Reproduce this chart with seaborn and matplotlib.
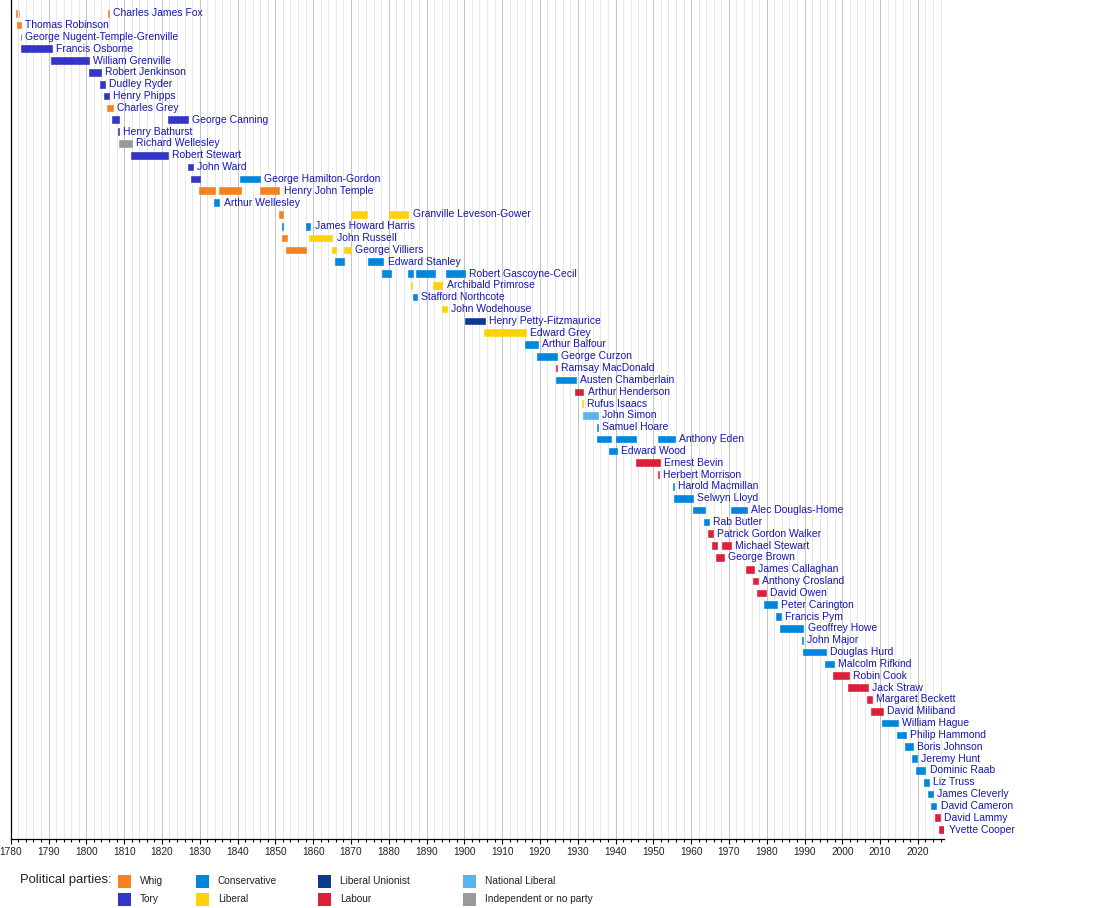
import matplotlib
matplotlib.use("Agg")
import matplotlib.pyplot as plt
from matplotlib.patches import Rectangle
import pandas as pd
import seaborn as sns

# ---------- Setup ----------
sns.set_theme(style="white")
plt.rcParams["font.family"] = ["Liberation Sans", "DejaVu Sans"]

names = [
    "Charles James Fox", "Thomas Robinson", "George Nugent-Temple-Grenville",
    "Francis Osborne", "William Grenville", "Robert Jenkinson", "Dudley Ryder",
    "Henry Phipps", "Charles Grey", "George Canning", "Henry Bathurst",
    "Richard Wellesley", "Robert Stewart", "John Ward", "George Hamilton-Gordon",
    "Henry John Temple", "Arthur Wellesley", "Granville Leveson-Gower",
    "James Howard Harris", "John Russell", "George Villiers", "Edward Stanley",
    "Robert Gascoyne-Cecil", "Archibald Primrose", "Stafford Northcote",
    "John Wodehouse", "Henry Petty-Fitzmaurice", "Edward Grey", "Arthur Balfour",
    "George Curzon", "Ramsay MacDonald", "Austen Chamberlain", "Arthur Henderson",
    "Rufus Isaacs", "John Simon", "Samuel Hoare", "Anthony Eden", "Edward Wood",
    "Ernest Bevin", "Herbert Morrison", "Harold Macmillan", "Selwyn Lloyd",
    "Alec Douglas-Home", "Rab Butler", "Patrick Gordon Walker", "Michael Stewart",
    "George Brown", "James Callaghan", "Anthony Crosland", "David Owen",
    "Peter Carington", "Francis Pym", "Geoffrey Howe", "John Major",
    "Douglas Hurd", "Malcolm Rifkind", "Robin Cook", "Jack Straw",
    "Margaret Beckett", "David Miliband", "William Hague", "Philip Hammond",
    "Boris Johnson", "Jeremy Hunt", "Dominic Raab", "Liz Truss",
    "James Cleverly", "David Cameron", "David Lammy", "Yvette Cooper",
]

# one entry per term of office: row index into names, start, end, party
term_row = [
    0, 0, 0, 1, 2, 3, 4, 5, 6, 7, 8, 9, 9, 10, 11, 12, 13, 14, 14,
    15, 15, 15, 16, 17, 17, 17, 18, 18, 19, 19, 20, 20, 20, 21, 21,
    22, 22, 22, 22, 23, 23, 24, 25, 26, 27, 28, 29, 30, 31, 32, 33,
    34, 35, 36, 36, 36, 37, 38, 39, 40, 41, 42, 42, 43, 44, 45, 45,
    46, 47, 48, 49, 50, 51, 52, 53, 54, 55, 56, 57, 58, 59, 60, 61,
    62, 63, 64, 65, 66, 67, 68, 69,
]
term_start = [
    1781.4, 1782.1, 1805.7, 1781.7, 1782.6, 1782.7, 1790.7, 1800.8, 1803.6,
    1804.7, 1805.6, 1806.8, 1821.7, 1808.5, 1808.6, 1811.8, 1826.8, 1827.7,
    1840.7, 1829.9, 1835.0, 1845.9, 1833.9, 1850.9, 1869.9, 1880.1, 1851.9,
    1858.2, 1851.8, 1859.0, 1852.9, 1864.9, 1868.2, 1865.9, 1874.4, 1878.1,
    1885.0, 1887.2, 1895.1, 1886.0, 1891.8, 1886.3, 1894.1, 1900.2, 1905.1,
    1916.1, 1919.3, 1924.2, 1924.3, 1929.3, 1931.2, 1931.3, 1935.2, 1935.2,
    1940.2, 1951.3, 1938.4, 1945.3, 1951.3, 1955.3, 1955.4, 1960.4, 1970.5,
    1963.4, 1964.4, 1965.4, 1968.3, 1966.5, 1974.4, 1976.3, 1977.3, 1979.4,
    1982.5, 1983.5, 1989.4, 1989.5, 1995.4, 1997.5, 2001.5, 2006.5, 2007.6,
    2010.5, 2014.5, 2016.5, 2018.5, 2019.5, 2021.7, 2022.7, 2023.5, 2024.6,
    2025.7,
]
term_end = [
    1781.6, 1782.3, 1805.9, 1782.8, 1782.8, 1790.8, 1800.8, 1803.8, 1804.9,
    1806.0, 1807.0, 1808.7, 1826.9, 1808.7, 1812.0, 1821.7, 1828.1, 1830.1,
    1846.0, 1834.1, 1841.0, 1851.1, 1835.2, 1852.1, 1874.2, 1885.2, 1852.1,
    1859.3, 1853.1, 1865.1, 1858.2, 1866.1, 1870.1, 1868.3, 1878.6, 1880.5,
    1886.3, 1892.2, 1900.2, 1886.2, 1894.2, 1887.4, 1895.3, 1905.5, 1916.4,
    1919.5, 1924.5, 1924.4, 1929.6, 1931.5, 1931.4, 1935.4, 1935.4, 1938.7,
    1945.5, 1955.7, 1940.4, 1951.7, 1951.5, 1955.5, 1960.4, 1963.6, 1974.7,
    1964.7, 1965.7, 1966.8, 1970.6, 1968.7, 1976.6, 1977.6, 1979.7, 1982.8,
    1983.8, 1989.7, 1989.6, 1995.6, 1997.8, 2001.8, 2006.8, 2007.8, 2010.7,
    2014.8, 2016.9, 2018.7, 2019.8, 2022.0, 2023.0, 2023.9, 2024.9, 2025.9,
    2027.0,
]
W, T, C, L, LU, LAB, NL, IND = (
    "Whig", "Tory", "Conservative", "Liberal", "Liberal Unionist",
    "Labour", "National Liberal", "Independent or no party",
)
term_party = [
    W, W, W, W, T, T, T, T, T, T, W, T, T, T, IND, T, T, T, C,
    W, W, W, C, W, L, L, C, C, W, L, W, L, L, C, C,
    C, C, C, C, L, L, C, L, LU, L, C, C, LAB, C, LAB, L,
    NL, C, C, C, C, C, LAB, LAB, C, C, C, C, C, LAB, LAB, LAB,
    LAB, LAB, LAB, LAB, C, C, C, C, C, C, LAB, LAB, LAB, LAB, C, C,
    C, C, C, C, C, C, LAB, LAB,
]

parties = [W, T, C, L, LU, LAB, NL, IND]
party_colors = ["#f5811f", "#3434c6", "#0087dc", "#fdd20a",
                "#0b3a8f", "#dc1f3a", "#58b4ec", "#9a9a9a"]
decade_ticks = list(range(1780, 2021, 10))
biennial_ticks = list(range(1780, 2027, 2))

df = pd.DataFrame({"row": term_row, "start": term_start,
                   "end": term_end, "party": term_party})
color_of = dict(zip(parties, party_colors))
bar_colors = df["party"].map(color_of)

# ---------- Figure ----------
fig = plt.figure(figsize=(11, 9.08), dpi=100)
ax = fig.add_axes([10.7 / 1100, 69 / 908, 933.3 / 1100, 839 / 908])

# thin edge in the bar's own colour keeps very short terms visible
ax.barh(df["row"], df["end"] - df["start"], left=df["start"], height=0.56,
        color=bar_colors, edgecolor=bar_colors, linewidth=0.45, zorder=3)

# name goes just after the end of the person's last term
label_x = df.groupby("row")["end"].max()
for r, name in enumerate(names):
    ax.annotate(name, (label_x[r], r), xytext=(3, 0), textcoords="offset points",
                ha="left", va="center", fontsize=7.5, color="#1616b0",
                annotation_clip=False, zorder=4)

ax.set_xlim(1780, 2026.9)
ax.set_ylim(69.8, -1.12)
ax.set_yticks([])
ax.set_xticks(decade_ticks)
ax.set_xticks(biennial_ticks, minor=True)
ax.grid(axis="x", which="major", color="#c4c4c4", linewidth=0.72, zorder=0)
ax.grid(axis="x", which="minor", color="#e8e8e8", linewidth=0.72, zorder=0)
ax.grid(axis="y", visible=False)
ax.set_axisbelow(True)
ax.tick_params(axis="x", which="major", bottom=True, length=3.5, width=0.8,
               color="black", labelsize=7.3, labelcolor="#222222", pad=2.5)
ax.tick_params(axis="x", which="minor", bottom=True, length=2, width=0.8,
               color="black")
sns.despine(ax=ax, top=True, right=True)
for s in ["left", "bottom"]:
    ax.spines[s].set_color("black")
    ax.spines[s].set_linewidth(0.9)

# ---------- Legend ----------
fig.text(20 / 1100, 1 - 880 / 908, "Political parties:", fontsize=9.4,
         color="#222222", ha="left", va="center")
col_x = [118, 196, 318, 463]
row_y = [881.5, 899]
for i, (p, c) in enumerate(zip(parties, party_colors)):
    x = col_x[i // 2]
    y = row_y[i % 2]
    fig.add_artist(Rectangle((x / 1100, 1 - (y + 6.5) / 908), 13 / 1100, 13 / 908,
                             transform=fig.transFigure, facecolor=c, edgecolor="none"))
    fig.text((x + 22) / 1100, 1 - y / 908, p, fontsize=7.3, color="#222222",
             ha="left", va="center")

fig.savefig("out.png", dpi=100)
